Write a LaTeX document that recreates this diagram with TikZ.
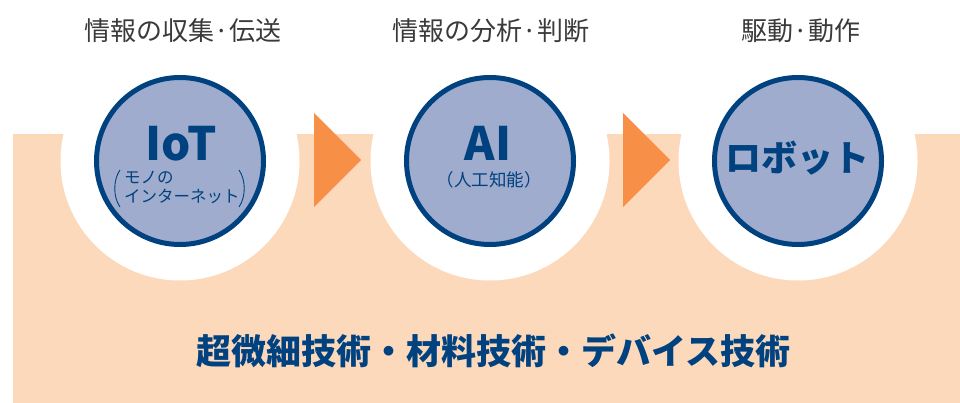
\documentclass[tikz,border=0pt]{standalone}
\usepackage{fontspec}
\setmainfont{Noto Sans CJK JP}
\newfontfamily\jp{Noto Sans CJK JP}
\definecolor{peach}{HTML}{FDD9BC}
\definecolor{navy}{HTML}{00417F}
\definecolor{lblue}{HTML}{9FACCD}
\definecolor{orng}{HTML}{F78F47}
\definecolor{gtext}{HTML}{3A3A3A}
\tikzset{
  halo/.style={fill=white, draw=none},
  bubble/.style={circle, fill=lblue, draw=navy, line width=5pt, minimum size=167pt, inner sep=0pt},
  toplabel/.style={text=gtext, font=\jp\fontsize{26}{30}\selectfont, inner sep=0pt},
  bigtxt/.style={text=navy, font=\jp\bfseries\fontsize{46}{50}\selectfont, inner sep=0pt},
  subtxt/.style={text=navy, font=\jp\fontsize{16.5}{18}\selectfont, inner sep=0pt},
  arrowtri/.style={fill=orng, draw=none}
}
\begin{document}
\begin{tikzpicture}[x=1pt,y=-1pt]
\useasboundingbox (0,0) rectangle (960,403);
% background band
\fill[peach] (13,134) rectangle (960,403);
% halos
\foreach \cx in {180,490,798} \fill[white] (\cx,161) circle[radius=119.5];
% arrows
\fill[arrowtri] (314,113) -- (361,160) -- (314,207) -- cycle;
\fill[arrowtri] (623,113) -- (670,160) -- (623,207) -- cycle;
% circles
\node[bubble] (iot) at (180,161) {};
\node[bubble] (ai) at (490,161) {};
\node[bubble] (robot) at (798,161) {};
% top labels
\node[toplabel] (l1) at (183,31) {情報の収集·伝送};
\node[toplabel] (l2) at (491,31) {情報の分析·判断};
\node[toplabel] (l3) at (801,31) {駆動·動作};
% circle texts
\node[bigtxt] (iott) at (181,143.5) {IoT};
\node[subtxt, anchor=west] (iots1) at (124,178) {モノの};
\node[subtxt, anchor=west] (iots2) at (124,196.5) {インターネット};
\draw[navy, line width=0.9pt] (120,170) .. controls (113,180) and (113,197) .. (120,207);
\draw[navy, line width=0.9pt] (239,170) .. controls (246,180) and (246,197) .. (239,207);
\node[bigtxt] (ait) at (488,143.5) {AI};
\node[subtxt, font=\jp\fontsize{17.5}{19}\selectfont] (ais) at (489,180) {（人工知能）};
\node[text=navy, font=\jp\bfseries\fontsize{36}{40}\selectfont, inner sep=0pt] (rob) at (797,158) {ロボット};
% bottom text
\node[text=navy, font=\jp\bfseries\fontsize{35}{40}\selectfont, inner sep=0pt] (bottom) at (493,351) {超微細技術・材料技術・デバイス技術};
\end{tikzpicture}
\end{document}
